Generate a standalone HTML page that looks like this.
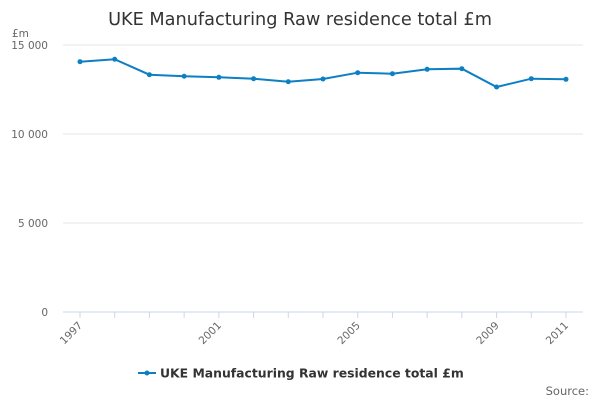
<!DOCTYPE html>
<html><head><meta charset="utf-8"><style>
body{margin:0;background:#fff;font-family:"DejaVu Sans","Liberation Sans",sans-serif}
svg{display:block;font-family:"DejaVu Sans","Liberation Sans",sans-serif}
</style></head><body>
<svg id="c" width="600" height="400">
<text x="300" y="25" text-anchor="middle" font-size="17.7" fill="#333">UKE Manufacturing Raw residence total £m</text>
<text x="12" y="37" font-size="10.5" fill="#666">£m</text>
<g id="grid"></g><g id="xt"></g><g id="series"></g>
<g>
<line x1="138" y1="373" x2="156" y2="373" stroke="#0d7fc3" stroke-width="2"/>
<circle cx="147" cy="373" r="2.5" fill="#0d7fc3"/>
<text x="160" y="377.5" font-size="12.4" font-weight="bold" fill="#333">UKE Manufacturing Raw residence total £m</text>
</g>
<text x="589" y="395" text-anchor="end" font-size="11.5" fill="#666">Source:</text>
</svg>
<script>
const years=[1997,1998,1999,2000,2001,2002,2003,2004,2005,2006,2007,2008,2009,2010,2011];
const values=[14062,14197,13331,13242,13185,13107,12938,13090,13444,13388,13635,13669,12640,13107,13073];
const yTicks=[0,5000,10000,15000];
const yTickLabels=["0","5 000","10 000","15 000"];
const xLabelYears=[1997,2001,2005,2009,2011];
const NS="http://www.w3.org/2000/svg";
const L=63,R=583,T=45,B=312;
const x=yr=>80+(yr-1997)*(566-80)/14;
const y=v=>B-(v/15000)*(B-T);
function mk(t,a,p){const e=document.createElementNS(NS,t);for(const k in a)e.setAttribute(k,a[k]);p.appendChild(e);return e;}
const g=document.getElementById('grid');
yTicks.forEach((v,i)=>{
 const ln=mk('line',{x1:L,x2:R,y1:y(v),y2:y(v),stroke:i==0?'#ccd6eb':'#e6e6e6','stroke-width':1},g);
 
 
 const t=mk('text',{x:48,y:y(v)+4,'text-anchor':'end','font-size':10.5,fill:'#666'},g);
 t.textContent=yTickLabels[i];
 
 
});
const xt=document.getElementById('xt');
years.forEach(yr=>{
 const tk=mk('line',{x1:x(yr),x2:x(yr),y1:B,y2:B+6,stroke:'#ccd6eb'},xt);
 
 
});
xLabelYears.forEach(yr=>{
 const t=mk('text',{x:x(yr)+3,y:B+14,'text-anchor':'end','font-size':10.5,fill:'#666',transform:`rotate(-45 ${x(yr)+3} ${B+14})`},xt);
 t.textContent=yr;
 
 
});
const s=document.getElementById('series');
const pl=mk('polyline',{points:years.map((yr,i)=>x(yr)+','+y(values[i])).join(' '),fill:'none',stroke:'#0d7fc3','stroke-width':2},s);


years.forEach((yr,i)=>{
 const c=mk('circle',{cx:x(yr),cy:y(values[i]),r:2.5,fill:'#0d7fc3'},s);
 
 
});
</script>
</body></html>
